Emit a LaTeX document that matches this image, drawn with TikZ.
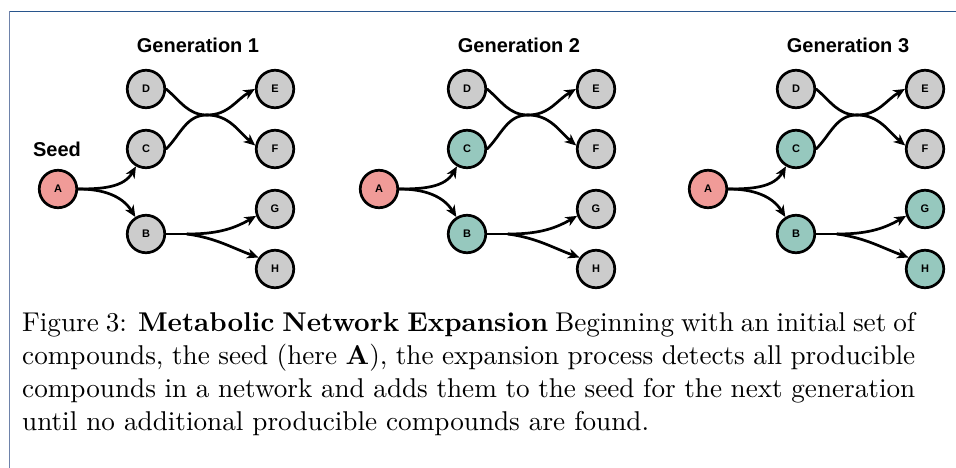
\documentclass[tikz,border=0pt]{standalone}
\usepackage{fontspec}
\usepackage{graphicx}
\usetikzlibrary{arrows.meta}
\newfontfamily\labelfont{Liberation Sans}
\definecolor{seedred}{RGB}{240,155,152}
\definecolor{cmpdteal}{RGB}{150,200,190}
\definecolor{cmpdgray}{RGB}{204,204,204}
\definecolor{frameblue}{RGB}{40,85,140}
\definecolor{frameside}{RGB}{110,130,170}
\tikzset{
  cmpd/.style={circle, draw=black, line width=2.7pt, minimum size=37.5pt, inner sep=0pt,
    font=\labelfont\bfseries\fontsize{11}{13}\selectfont},
  rxn/.style={line width=2.7pt, line cap=round, -{Stealth[length=11.5pt,width=10pt,inset=3.5pt]}},
  link/.style={line width=2.7pt, line cap=round},
  gentitle/.style={font=\labelfont\bfseries\fontsize{20}{24}\selectfont, anchor=base, inner sep=0pt},
}
\begin{document}
\begin{tikzpicture}[x=1pt,y=1pt]
\useasboundingbox (0,0) rectangle (956,-468);
% frame
\draw[frameblue, line width=1.8pt] (9.5,-11.5) -- (956,-11.5);
\draw[frameside, line width=1.8pt] (9.5,-11.5) -- (9.5,-468);

\node[gentitle] (seed) at (57,-157) {Seed};

\foreach \g/\dx/\fmid/\flow in {1/0/cmpdgray/cmpdgray, 2/321/cmpdteal/cmpdgray, 3/650/cmpdteal/cmpdteal}{
  \begin{scope}[xshift=\dx pt]
    \node[gentitle] (title\g) at (198,-53) {Generation \g};
    \node[cmpd, fill=seedred] (a\g) at (58,-189) {A};
    \node[cmpd, fill=cmpdgray] (d\g) at (146,-89) {D};
    \node[cmpd, fill=\fmid] (c\g) at (146,-149) {C};
    \node[cmpd, fill=\fmid] (b\g) at (146,-234) {B};
    \node[cmpd, fill=cmpdgray] (e\g) at (275,-89) {E};
    \node[cmpd, fill=cmpdgray] (f\g) at (275,-149) {F};
    \node[cmpd, fill=\flow] (g\g) at (275,-209) {G};
    \node[cmpd, fill=\flow] (h\g) at (275,-269) {H};
    % A -> B + C
    \draw[rxn] (a\g.east) to[out=0,in=-120] (c\g);
    \draw[rxn] (a\g.east) to[out=0,in=122] (b\g);
    % C + D -> E + F
    \coordinate (j\g) at (207,-115);
    \draw[link] (d\g.east) to[out=-40,in=180] (j\g);
    \draw[link] (c\g.east) to[out=45,in=180] (j\g);
    \draw[rxn] (j\g) to[out=0,in=-150] (e\g.west);
    \draw[rxn] (j\g) to[out=0,in=140] (f\g.170);
    % B -> G + H
    \coordinate (k\g) at (187,-234);
    \draw[link] (b\g.east) -- (k\g);
    \draw[rxn] (k\g) to[out=0,in=-150] (g\g.-160);
    \draw[rxn] (k\g) to[out=-8,in=160] (h\g.145);
  \end{scope}
}

\node[anchor=north west, inner sep=0pt] (caption) at (22,-312) {\scalebox{2.717}{\parbox{328.7pt}{\fontsize{10}{12.15}\selectfont
Figure 3: \textbf{Metabolic Network Expansion} Beginning with an initial set of\linebreak
compounds, the seed (here \textbf{A}), the expansion process detects all producible\linebreak
compounds in a network and adds them to the seed for the next generation\linebreak
until no additional producible compounds are found.}}};
\end{tikzpicture}
\end{document}
